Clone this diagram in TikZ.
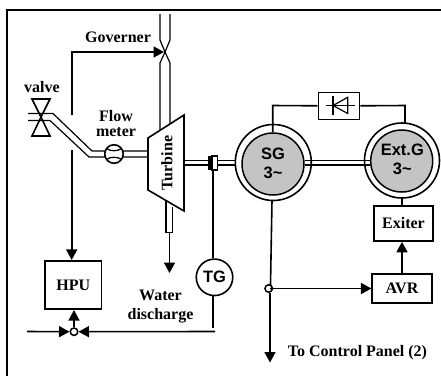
\documentclass[tikz,border=0pt]{standalone}
\usepackage{fontspec}
\setmainfont{Liberation Serif}
\newfontfamily\sanslab{Liberation Sans}
\usetikzlibrary{arrows.meta}
\tikzset{
  x=1pt,y=-1pt,
  ln/.style={line width=1.6pt,black},
  thin ln/.style={line width=1.2pt,black},
  arr/.style={ln,-{Triangle[length=10.5pt,width=11pt]}},
  lab/.style={font=\bfseries\fontsize{16}{15}\selectfont,align=center,inner sep=0pt},
  boxn/.style={draw,line width=1.6pt,inner sep=0pt,font=\bfseries\fontsize{16}{15}\selectfont},
  gen/.style={circle,draw,line width=1.5pt,fill=black!23,inner sep=0pt,minimum size=62pt},
  gentext/.style={align=center,inner sep=0pt,font=\sanslab\bfseries\fontsize{16.5}{19}\selectfont},
  ring/.style={circle,draw,line width=1.6pt,fill=white,inner sep=0pt},
}
\begin{document}
\begin{tikzpicture}
\useasboundingbox (0,0) rectangle (441,376);
\draw[line width=1.8pt] (7,376) -- (7,10) -- (441,10);
% upper penstock
\draw[thin ln] (160,14) -- (160,40) -- (165,52) -- (160,63) -- (160,132);
\draw[thin ln] (170,14) -- (170,40) -- (165,52) -- (170,63) -- (170,126);
% valve
\coordinate (vc) at (41,117);
\draw[ln] (vc) -- (32,99) -- (50,99) -- cycle;
\draw[ln] (vc) -- (32,136) -- (50,136) -- cycle;
% pipe
\draw[thin ln] (28,113.5) -- (53,113.5) -- (92,151) -- (148,151);
\draw[thin ln] (28,120.5) -- (50,120.5) -- (89,157) -- (148,157);
% flow meter
\node[circle,draw,line width=1.6pt,fill=white,minimum size=18.5pt,inner sep=0pt] (fm) at (114,154) {};
\draw[thin ln] (106.5,148.5) .. controls (110,151.5) and (118,151.5) .. (121.5,148.5);
\draw[thin ln] (106.5,159.5) .. controls (110,156.5) and (118,156.5) .. (121.5,159.5);
% turbine
\draw[ln,fill=white] (148,138) -- (184,115) -- (184,211) -- (148,190) -- cycle;
\node[lab,rotate=90] (turb) at (167,163) {Turbine};
% draft tube
\draw[thin ln] (166,200) -- (166,232.5) -- (172.7,232.5) -- (172.7,207);
\coordinate (wd) at (169.5,232.5);
\coordinate (wdend) at (169.5,273);
\draw[arr] (wd) -- (wdend);
% governor line
\coordinate (g1) at (71.7,115);
\coordinate (g0) at (71.7,52);
\coordinate (gv) at (164,52);
\draw[arr] (g1) -- (g0) -- (gv);
% HPU
\node[boxn,minimum width=56.5pt,minimum height=48.5pt] (hpu) at (73.3,285) {HPU};
\coordinate (g2) at (71.7,150);
\draw[arr] (g2) -- (hpu.north -| g2);
% junction
\node[circle,draw,line width=1.5pt,fill=white,minimum size=7.5pt,inner sep=0pt] (j) at (74,331.7) {};
\coordinate (jl) at (27,331.5);
\coordinate (jr) at (215,331.5);
\draw[arr] (j.north) -- (hpu.south -| j.north);
\draw[arr] (jl) -- (j.west);
\draw[arr] (jr) -- (j.east);
% shaft
\draw[thin ln] (184,160.5) -- (208,160.5);
\draw[thin ln] (184,165) -- (208,165);
\draw[thin ln] (217,160.5) -- (235,160.5);
\draw[thin ln] (217,165) -- (235,165);
\draw[ln,fill=white] (212,156) rectangle (217.5,170);
\fill (208,155.7) rectangle (212.5,170);
% TG
\node[circle,draw,line width=1.6pt,fill=white,minimum size=36.5pt,inner sep=0pt,font=\sanslab\bfseries\fontsize{16.5}{18}\selectfont] (tg) at (214.5,277.3) {TG};
\coordinate (tgt) at (212.7,170);
\draw[ln] (tgt) -- (tgt |- tg.north);
\coordinate (tgb) at (212.7,328);
\draw[ln] (tgb |- tg.south) -- (tgb);
% generators
\node[ring,minimum size=76pt] (sgo) at (273.3,162.5) {};
\node[ring,minimum size=75pt] (exo) at (402,160.5) {};
\node[gen] (sg) at (273,164) {};
\node[gen] (ex) at (401.7,161) {};
\draw[thin ln] (sg.east |- 0,160.5) -- (ex.west |- 0,160.5);
\draw[thin ln] (sg.east |- 0,165) -- (ex.west |- 0,165);
\node[gentext] (sgt) at (273,163.5) {SG\\3{\char126}};
\node[gentext] (ext) at (402.3,159.5) {Ext.G\\3{\char126}};
% diode
\node[draw,line width=1.6pt,minimum width=41pt,minimum height=27pt,inner sep=0pt] (db) at (339,105.8) {};
\draw[ln] (sg.north -| 272.7,0) -- (272.7,105.5) -- (db.west);
\draw[ln] (405,123) -- (405,105.5) -- (db.east);
\draw[thin ln] (326,105.5) -- (355,105.5);
\draw[thin ln] (347.7,97.3) -- (333,105.5) -- (347.7,113.5) -- cycle;
\draw[ln] (333,96) -- (333,114.5);
% Exciter
\node[boxn,minimum width=59pt,minimum height=35pt] (exi) at (403.5,223.5) {Exiter};
\draw[ln] (402,198) -- (402,206);
% AVR
\node[boxn,minimum width=59.5pt,minimum height=28.5pt] (avr) at (402,288.5) {AVR};
\draw[arr] (avr.north) -- (exi.south -| avr.north);
% signal
\node[circle,draw,line width=1.5pt,fill=white,minimum size=7.5pt,inner sep=0pt] (t) at (268.7,288.5) {};
\draw[ln] (272,200.5) -- (270.5,285);
\coordinate (td) at (271.7,288.5);
\fill (td) circle (1.9pt);
\draw[arr] (td) -- (avr.west);
\coordinate (cp) at (270,362.5);
\draw[arr] (t.south -| cp) -- (cp);
% labels
\node[lab] (l1) at (118,37) {Governer};
\node[lab] (l2) at (42,87) {valve};
\node[lab] (l3) at (116,124) {Flow\\meter};
\node[lab,font=\bfseries\fontsize{16}{18.5}\selectfont] (l4) at (160.5,306.5) {Water\\discharge};
\node[lab] (l5) at (357.5,353) {To Control Panel (2)};
\end{tikzpicture}
\end{document}
